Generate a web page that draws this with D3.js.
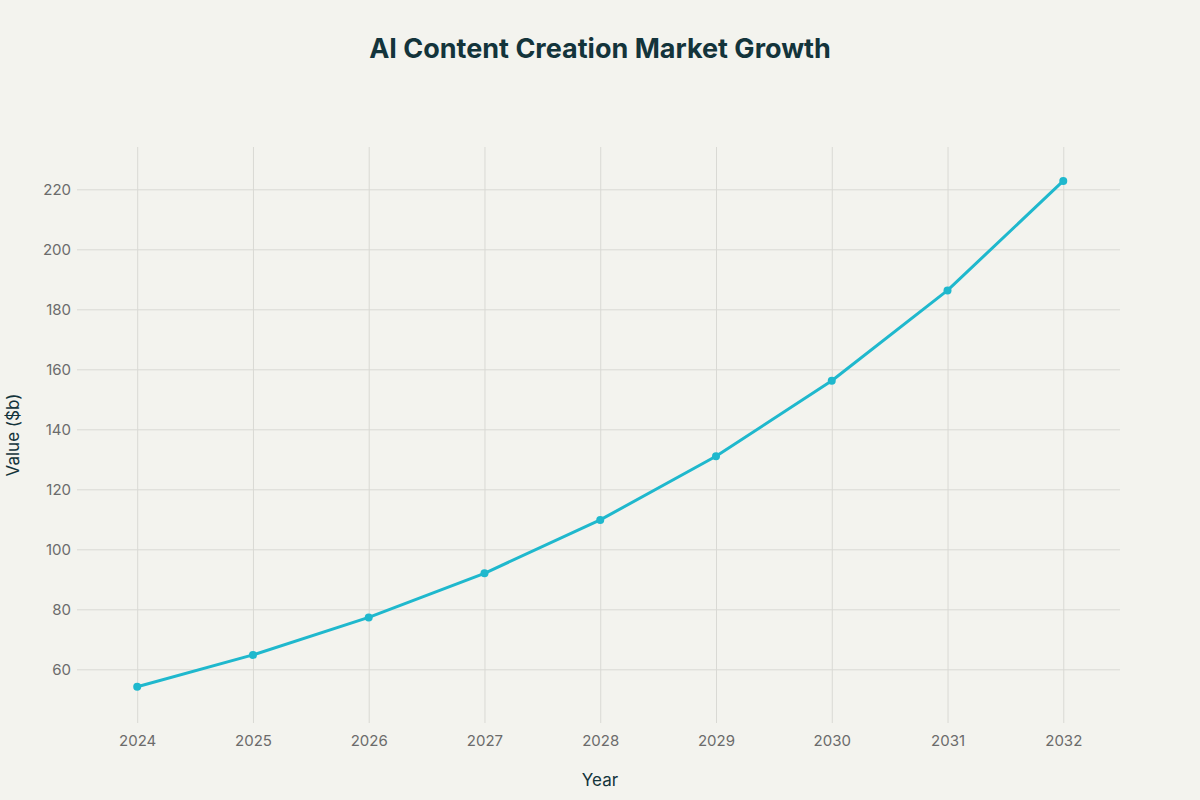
<!DOCTYPE html>
<html>
<head>
<meta charset="utf-8">
<script src="https://cdn.jsdelivr.net/npm/d3@7"></script>
<style>
  html, body { margin: 0; padding: 0; background: #f3f3ee; }
  text { font-family: Inter, "Open Sans", sans-serif; }
</style>
</head>
<body>
<div id="chart"></div>
<script>
// data
var years = [2024, 2025, 2026, 2027, 2028, 2029, 2030, 2031, 2032];
var values = [54.2, 64.8, 77.3, 92.0, 109.8, 131.0, 156.2, 186.3, 222.8];
var yTicks = [60, 80, 100, 120, 140, 160, 180, 200, 220];

(function() {
var W = 1200, H = 800,
  mLeft = 77, mRight = 1120, mTop = 147, mBottom = 723;

var svg = d3.select('#chart').append('svg')
  .attr('width', W).attr('height', H)
  .style('background', '#f3f3ee');

var x = d3.scaleLinear().domain([2023.48, 2032.49]).range([mLeft, mRight]);
var y = d3.scaleLinear().domain([42.1, 234.1]).range([mBottom, mTop]);

// grid + tick labels through axes
var yAxis = svg.append('g')
  .attr('transform', 'translate(' + mLeft + ',0)')
  .call(d3.axisLeft(y).tickValues(yTicks).tickSize(-(mRight - mLeft)).tickPadding(6));
var xAxis = svg.append('g')
  .attr('transform', 'translate(0,' + mBottom + ')')
  .call(d3.axisBottom(x).tickValues(years).tickFormat(d3.format('d')).tickSize(-(mBottom - mTop)).tickPadding(12));

[yAxis, xAxis].forEach(function(a) {
  a.select('.domain').remove();
  a.selectAll('.tick line').attr('stroke', '#d9d9d4').attr('stroke-width', 1);
  a.selectAll('.tick text').attr('fill', '#6b6b6b').style('font-size', '15px');
});

var line = d3.line()
  .x(function(d, i) { return x(years[i]); })
  .y(function(d) { return y(d); });

svg.append('path').datum(values)
  .attr('d', line)
  .attr('fill', 'none')
  .attr('stroke', '#1fb8cd')
  .attr('stroke-width', 3)
  .attr('stroke-linejoin', 'round');

svg.selectAll('circle.pt').data(values).enter().append('circle')
  .attr('class', 'pt')
  .attr('cx', function(d, i) { return x(years[i]); })
  .attr('cy', function(d) { return y(d); })
  .attr('r', 4)
  .attr('fill', '#1fb8cd');

svg.append('text')
  .attr('x', W / 2).attr('y', 58)
  .attr('text-anchor', 'middle')
  .attr('fill', '#13343b')
  .style('font-size', '27px').style('font-weight', 'bold')
  .text('AI Content Creation Market Growth');

svg.append('text')
  .attr('x', 600).attr('y', 786)
  .attr('text-anchor', 'middle')
  .attr('fill', '#13343b')
  .style('font-size', '17px')
  .text('Year');

svg.append('text')
  .attr('transform', 'translate(19,' + (mTop + mBottom) / 2 + ') rotate(-90)')
  .attr('text-anchor', 'middle')
  .attr('fill', '#13343b')
  .style('font-size', '17px')
  .text('Value ($b)');
})();
</script>
</body>
</html>
